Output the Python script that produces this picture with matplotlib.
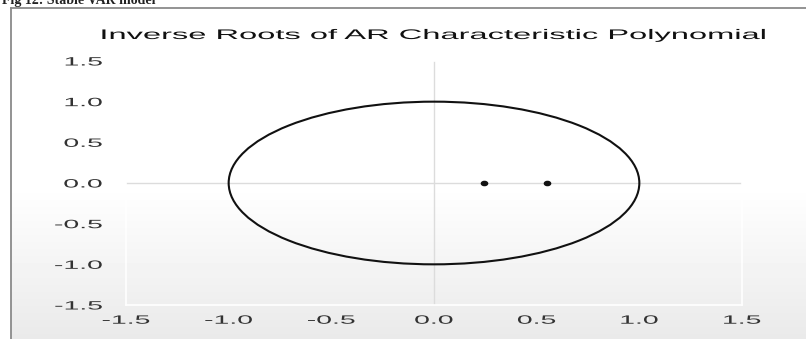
import matplotlib
matplotlib.use("Agg")
import matplotlib.pyplot as plt
import numpy as np
from matplotlib.patches import Circle
from matplotlib.patheffects import AbstractPathEffect
from matplotlib.transforms import Affine2D
from matplotlib.markers import MarkerStyle
from matplotlib.path import Path

# inverse roots of the AR polynomial (real part, imaginary part)
roots_re = [0.245, 0.55]
roots_im = [0.0, 0.0]

ticks = [-1.5, -1.0, -0.5, 0.0, 0.5, 1.0, 1.5]
tick_labels = ["-1.5", "-1.0", "-0.5", "0.0", "0.5", "1.0", "1.5"]

title = "Inverse Roots of AR Characteristic Polynomial"
caption = "Fig 12: Stable VAR model"

plt.rcParams["font.family"] = ["Liberation Sans", "DejaVu Sans"]
plt.rcParams["axes.unicode_minus"] = False

W, H = 806, 339
SX = 2.35  # the exported graph is stretched sideways


class Widen(AbstractPathEffect):
    """Draw text stretched horizontally about a pivot."""

    def __init__(self, sx, pivot="center"):
        super().__init__()
        self.sx = sx
        self.pivot = pivot

    def draw_path(self, renderer, gc, tpath, affine, rgbFace=None):
        ext = tpath.get_extents()
        x0 = {"left": ext.x0, "center": 0.5 * (ext.x0 + ext.x1), "right": ext.x1}[self.pivot]
        stretch = Affine2D().translate(-x0, 0).scale(self.sx, 1).translate(x0, 0)
        renderer.draw_path(gc, tpath, stretch + affine, rgbFace)


fig = plt.figure(figsize=(W / 100, H / 100), dpi=100)

# page background: white page, framed graph with a soft grey gradient
bg = fig.add_axes([0, 0, 1, 1], zorder=-1)
bg.set_axis_off()
shade = np.ones((H, W))
rows = np.arange(H)
grad = np.where(rows < 185, 1.0, 1.0 - (rows - 185) / (H - 185) * 0.085)
shade[8:, 11:] = grad[8:, None]
bg.imshow(shade, cmap="gray", vmin=0, vmax=1, extent=(0, W, H, 0),
          aspect="auto", interpolation="bilinear")
bg.plot([10.5, 10.5], [7.5, H], color="#8a8a8a", lw=1.3)
bg.plot([10.5, W], [7.5, 7.5], color="#8a8a8a", lw=1.3)
bg.set_xlim(0, W)
bg.set_ylim(H, 0)

fig.text(2 / W, 1 - 4 / H, caption, family="Liberation Serif", weight="bold",
         fontsize=10, va="baseline", ha="left", color="#222222")

ax = fig.add_axes([126 / W, 1 - 305 / H, (742 - 126) / W, (305 - 61) / H], zorder=1)
ax.set_facecolor("none")
ax.set_xlim(-1.5, 1.5)
ax.set_ylim(-1.5, 1.5)

ax.axhline(0, color="#dcdcdc", lw=1, zorder=1)
ax.axvline(0, color="#dcdcdc", lw=1, zorder=1)

ax.add_patch(Circle((0, 0), 1.0, fill=False, edgecolor="#111111", lw=1.5, zorder=2))

dot = MarkerStyle(Path.unit_circle().transformed(Affine2D().scale(1.5, 1)))
ax.plot(roots_re, roots_im, linestyle="none", marker=dot, markersize=4.5,
        color="#111111", zorder=3)

for s in ax.spines.values():
    s.set_color("white")
    s.set_linewidth(1.2)

ax.set_xticks(ticks, tick_labels)
ax.set_yticks(ticks, tick_labels)
ax.tick_params(axis="both", length=0, labelsize=8.7, labelcolor="#333333")
ax.tick_params(axis="x", pad=7)
ax.tick_params(axis="y", pad=17)
for lbl in ax.get_xticklabels():
    lbl.set_path_effects([Widen(SX, "center")])
for lbl in ax.get_yticklabels():
    lbl.set_path_effects([Widen(SX, "right")])

ax.text(0.5, 1 + 22 / 244, title, transform=ax.transAxes, ha="center",
        va="baseline", fontsize=10, color="#111111",
        path_effects=[Widen(SX, "center")])

fig.savefig("out.png", dpi=100)
